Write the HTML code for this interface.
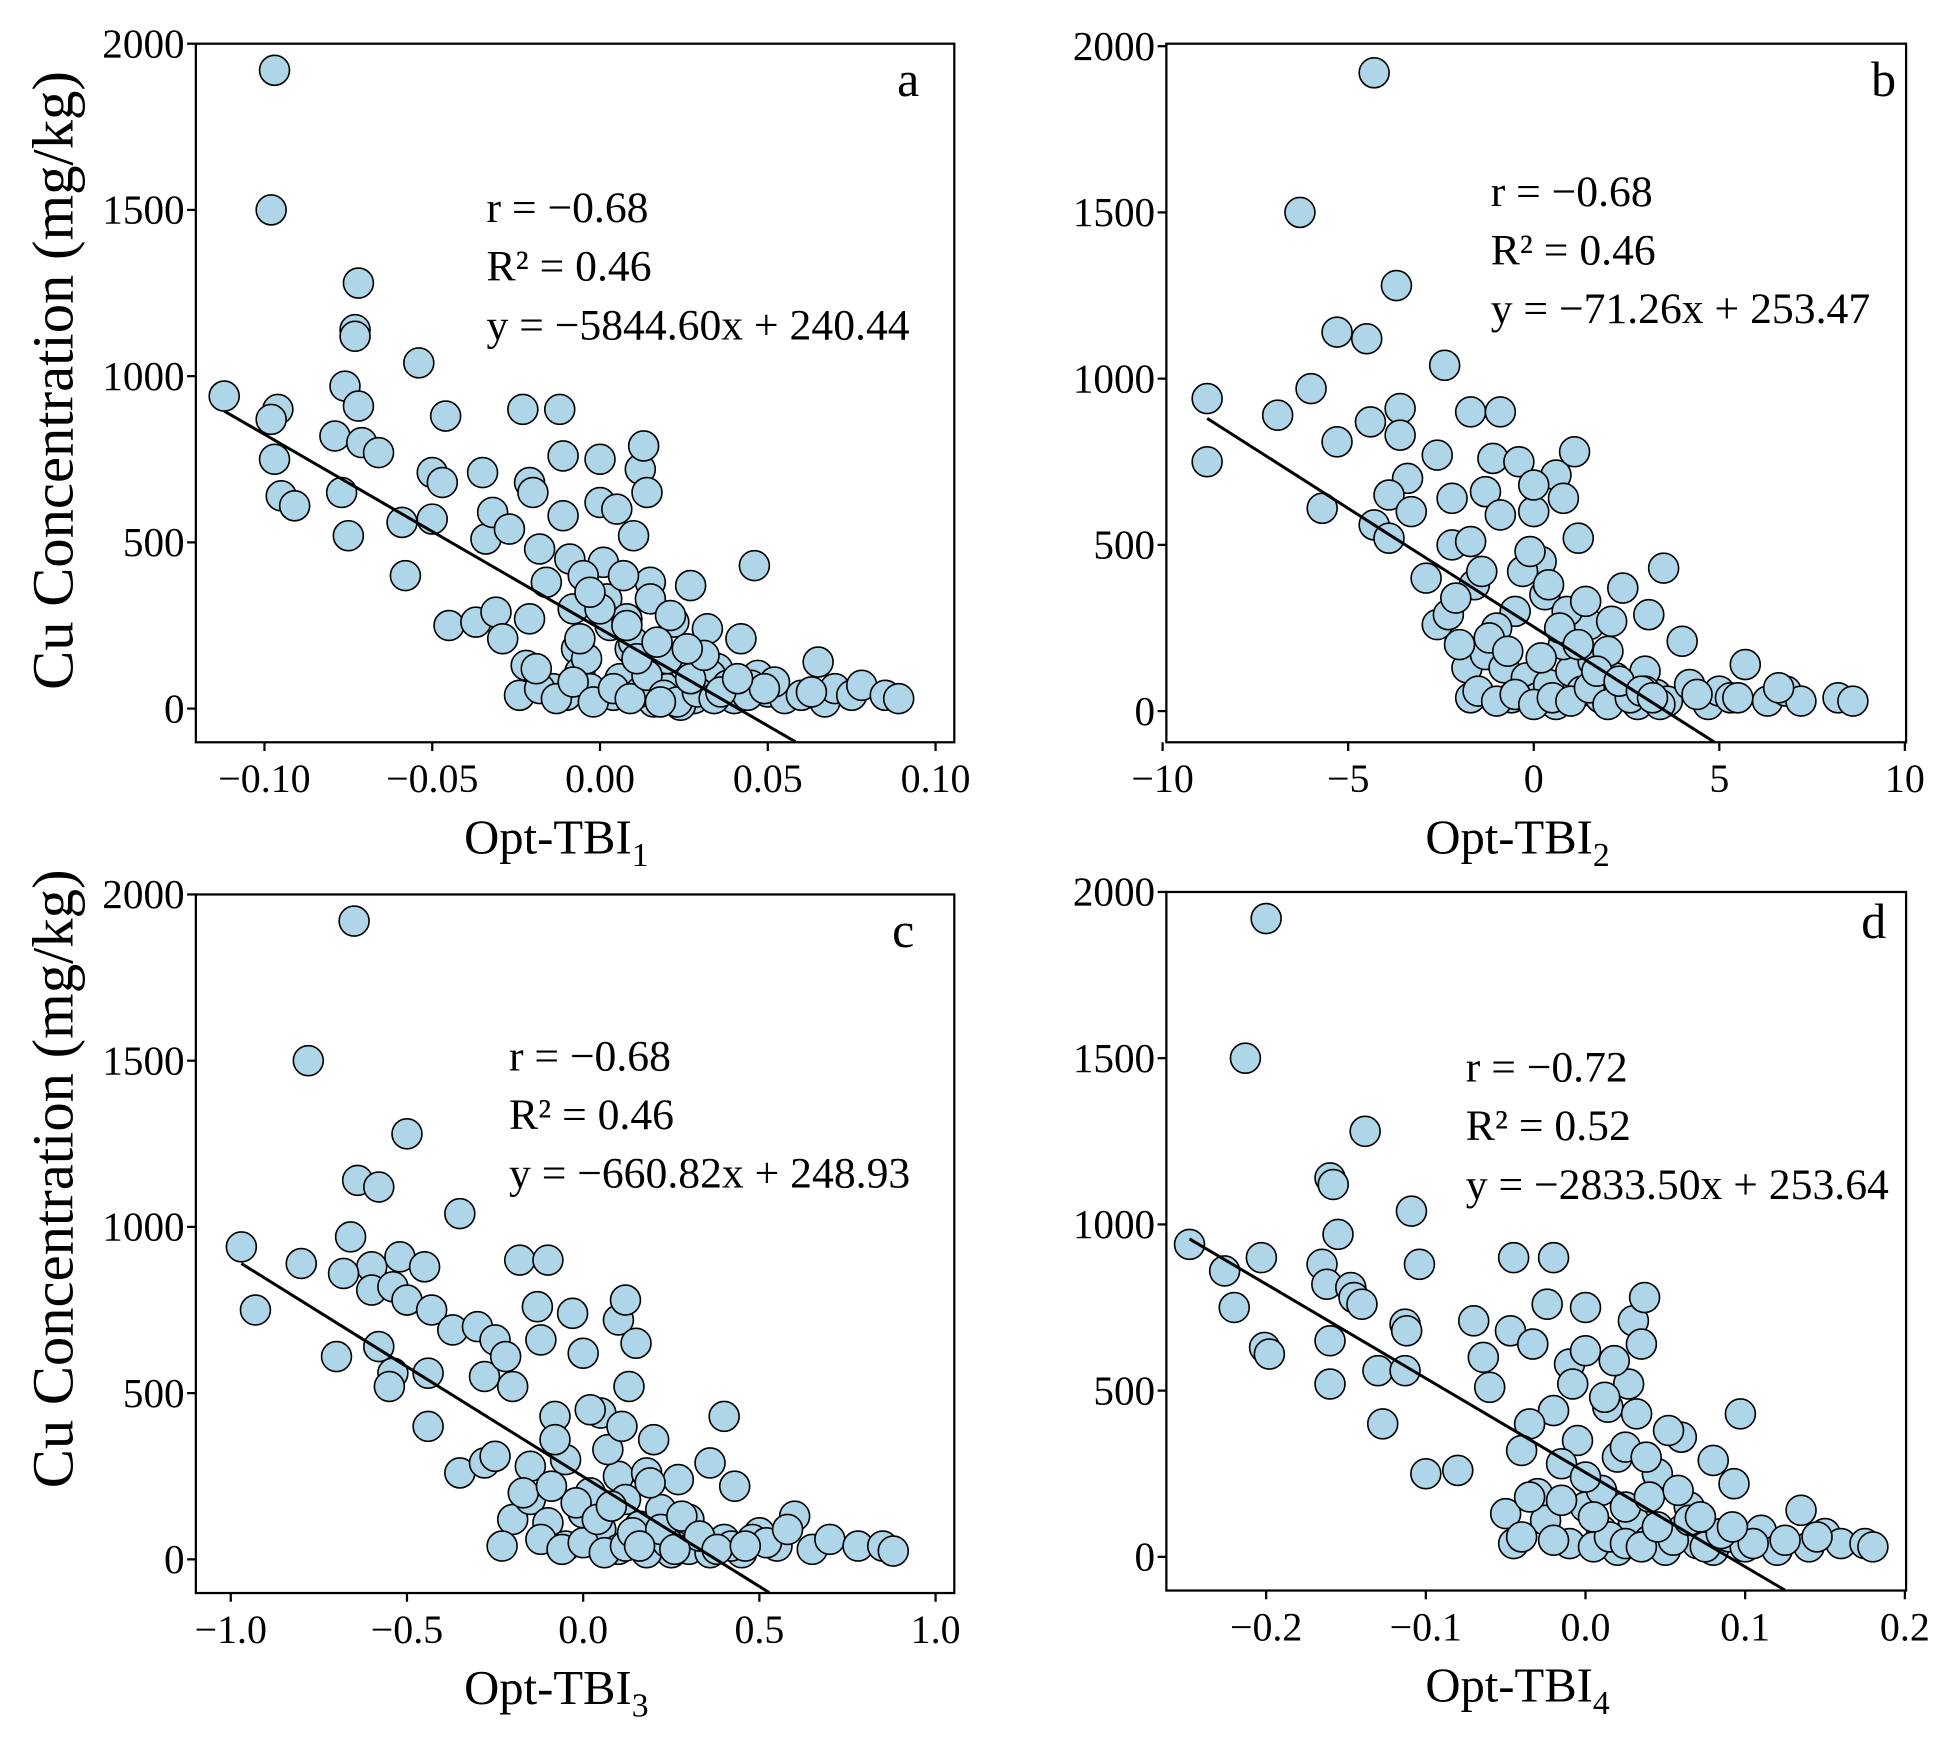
<!DOCTYPE html>
<html><head><meta charset="utf-8"><style>
html,body{margin:0;padding:0;background:#fff}
svg{display:block}
text{font-family:"Liberation Serif",serif;fill:#000}
</style></head><body>
<svg id="fig" width="1956" height="1749" viewBox="0 0 1568 1402" xmlns="http://www.w3.org/2000/svg"></svg>
<script>
const aX=[-0.097,-0.098,-0.072,-0.073,-0.073,-0.112,-0.096,-0.098,-0.076,-0.072,-0.079,-0.071,-0.066,-0.097,-0.095,-0.091,-0.077,-0.075,-0.059,-0.058,-0.054,-0.05,-0.047,-0.046,-0.05,-0.045,-0.037,-0.035,-0.034,-0.032,-0.031,-0.029,-0.027,-0.023,-0.022,-0.021,-0.020,-0.021,-0.018,-0.016,-0.014,-0.012,-0.011,-0.011,-0.009,-0.008,-0.007,-0.006,-0.004,-0.003,0.0,0.0,0.001,0.002,0.003,0.004,0.005,0.006,0.008,0.009,0.01,0.012,0.013,0.014,0.015,0.016,0.018,0.02,0.022,0.025,0.027,0.028,0.03,0.032,0.035,0.037,0.04,0.042,0.046,0.047,0.05,0.055,0.06,0.065,0.067,0.07,0.075,0.078,0.085,0.089,0.0,0.01,-0.005,0.02,0.033,0.045,0.012,-0.01,0.024,0.052,0.063,
-0.024,-0.018,-0.013,-0.008,-0.002,0.004,0.009,0.014,0.019,0.023,0.029,0.034,0.038,0.044,0.049,0.011,0.017,0.027,0.031,0.007,-0.003,0.015,0.021,0.036,0.041,-0.019,-0.006,0.026,0.008,0.018];
const aY=[1920,1500,1280,1140,1120,940,900,870,970,910,820,800,770,750,640,610,650,520,560,400,1040,710,680,880,570,250,260,710,510,590,290,210,540,900,130,680,650,270,480,380,60,900,760,580,450,300,180,110,150,60,750,620,440,330,250,40,600,90,270,180,520,720,790,650,380,20,130,60,260,130,370,30,80,240,120,60,30,210,430,100,50,30,40,140,20,60,40,70,40,30,300,200,400,150,100,70,50,40,10,80,50,
40,60,30,80,20,60,30,100,40,20,50,30,70,40,60,150,200,90,160,400,350,330,280,50,90,120,210,180,250,20];
const bX=[-4.3,-6.3,-3.7,-5.3,-4.5,-2.4,-8.8,-6.0,-6.9,-4.4,-3.6,-3.6,-5.3,-3.4,-2.6,-8.8,-1.7,-0.9,-3.9,-5.7,-4.3,-3.9,-3.3,-2.9,-2.2,-2.2,-2.6,-2.3,-1.7,-1.6,-1.1,-1.3,-0.9,-0.4,0.0,0.2,0.6,0.8,1.1,1.2,1.5,2.4,3.1,3.5,4.0,-1.8,-1.7,-1.3,-0.8,-0.6,-0.2,0.1,0.4,0.6,1.0,1.3,1.8,2.2,2.5,2.8,3.3,3.6,4.2,4.7,5.0,5.3,5.7,6.3,6.8,7.2,8.2,8.6,-0.5,0.3,0.8,-1.0,1.6,2.0,-0.3,0.9,-2.0,3.0,2.7,
-1.5,-1.0,-0.5,0.0,0.5,1.0,1.5,2.0,2.6,3.0,3.4,-1.2,-0.7,0.2,0.7,1.2,1.7,2.3,2.9,-0.1,0.4,1.4,2.1,-2.1,-1.4,0.0,3.2,4.4,5.5,6.6];
const bY=[1920,1500,1280,1140,1120,1040,940,970,890,870,910,830,810,700,770,750,900,900,650,610,560,520,600,400,640,500,260,290,510,380,760,660,590,750,600,450,710,640,780,520,260,370,290,430,210,130,40,170,130,40,100,40,80,20,120,60,40,100,70,20,50,30,80,20,60,40,140,30,60,30,40,30,300,350,200,250,150,180,420,300,200,120,50,
60,30,50,20,40,30,70,20,40,60,20,220,180,160,250,200,120,90,60,480,380,330,270,340,420,680,40,50,40,70];
const cX=[-0.65,-0.78,-0.5,-0.64,-0.58,-0.35,-0.97,-0.8,-0.66,-0.6,-0.52,-0.68,-0.6,-0.54,-0.5,-0.45,-0.43,-0.93,-0.7,-0.58,-0.54,-0.55,-0.44,-0.44,-0.37,-0.3,-0.28,-0.25,-0.22,-0.18,-0.1,-0.13,-0.03,-0.12,0.0,0.1,0.12,0.15,0.13,-0.2,-0.08,0.05,0.2,0.4,0.43,0.36,0.27,-0.35,-0.28,-0.2,-0.23,-0.15,-0.1,-0.05,0.0,0.05,0.1,0.16,0.2,0.25,0.3,0.35,0.4,0.45,0.5,0.55,0.6,0.65,0.7,0.78,0.85,0.88,-0.05,0.1,0.02,-0.15,0.22,0.3,-0.08,0.07,0.18,0.12,
-0.12,-0.06,0.0,0.06,0.12,0.18,0.24,0.3,0.36,0.42,0.48,-0.02,0.04,0.14,0.22,0.28,0.33,-0.17,-0.09,0.08,0.16,0.26,0.38,-0.25,0.52,0.58,0.02,0.11,0.19,0.46];
const cY=[1920,1500,1280,1140,1120,1040,940,890,970,880,910,860,810,820,780,880,750,750,610,640,560,520,560,400,690,700,550,660,610,900,900,760,740,660,620,720,780,650,520,520,430,440,360,430,220,290,240,260,290,120,40,180,110,40,140,90,30,100,60,20,70,30,60,20,80,40,130,30,60,40,40,25,300,250,200,280,150,120,360,330,260,180,
60,30,50,20,40,20,50,30,20,40,60,170,120,80,90,130,70,200,220,160,40,30,30,310,50,90,450,400,230,40];
const dX=[-0.2,-0.213,-0.138,-0.16,-0.158,-0.109,-0.248,-0.226,-0.203,-0.155,-0.165,-0.162,-0.147,-0.145,-0.14,-0.113,-0.112,-0.104,-0.22,-0.201,-0.198,-0.16,-0.16,-0.13,-0.113,-0.127,-0.1,-0.08,-0.07,-0.064,-0.06,-0.047,-0.045,-0.033,-0.024,-0.02,-0.02,-0.01,0.0,0.0,0.014,0.03,0.037,0.035,0.027,0.06,0.08,0.097,0.093,-0.05,-0.045,-0.03,-0.025,-0.01,0.0,0.01,0.02,0.03,0.04,0.05,0.06,0.07,0.08,0.09,0.1,0.11,0.12,0.135,0.14,0.15,0.16,0.175,0.18,-0.035,-0.005,0.02,0.045,0.01,-0.015,0.065,0.025,
-0.04,-0.02,0.005,0.015,0.025,0.035,0.055,0.075,0.085,0.105,-0.035,-0.015,0.005,0.025,0.045,0.065,-0.04,0.0,0.04,0.012,0.032,0.052,0.072,0.092,0.125,0.145,0.018,-0.008,0.038,0.058];
const dY=[1920,1500,1280,1140,1120,1040,940,860,900,970,880,820,810,780,760,700,680,880,750,630,610,650,520,560,560,400,250,260,710,600,510,680,900,640,760,900,440,580,750,620,450,710,780,640,520,360,290,430,220,130,40,190,110,40,150,80,20,110,50,20,80,40,20,60,30,80,20,140,30,70,40,40,30,400,350,300,250,200,280,150,330,
60,50,30,60,40,30,50,30,70,40,180,170,120,150,90,110,320,240,180,480,430,380,120,90,50,60,590,520,300,200];
const yTicks=[0,500,1000,1500,2000];
const aTicks=[-0.10,-0.05,0.00,0.05,0.10], aTickLbl=["−0.10","−0.05","0.00","0.05","0.10"];
const bTicks=[-10,-5,0,5,10], bTickLbl=["−10","−5","0","5","10"];
const cTicks=[-1.0,-0.5,0.0,0.5,1.0], cTickLbl=["−1.0","−0.5","0.0","0.5","1.0"];
const dTicks=[-0.2,-0.1,0.0,0.1,0.2], dTickLbl=["−0.2","−0.1","0.0","0.1","0.2"];
const fitSlope=[-5844.60,-71.26,-660.82,-2833.50];
const fitIntercept=[240.44,253.47,248.93,253.64];

const NS="http://www.w3.org/2000/svg";
const svg=document.getElementById('fig');
function mk(tag,attrs,parent){const e=document.createElementNS(NS,tag);for(const k in attrs)e.setAttribute(k,attrs[k]);(parent||svg).appendChild(e);return e;}

const panels=[
 {id:'a',L:157,R:765,T:35,B:595,x0:-0.1,px0:212,x1:0.1,px1:750,y2000:35,y0:568,xs:aX,ys:aY,ticks:aTicks,lbl:aTickLbl,sub:'1',ann:['r = −0.68','R² = 0.46','y = −5844.60x + 240.44'],annX:390,annY:178,letterX:728,letterY:77},
 {id:'b',L:935,R:1528,T:35,B:595,x0:-10,px0:932,x1:10,px1:1527,y2000:37,y0:570,xs:bX,ys:bY,ticks:bTicks,lbl:bTickLbl,sub:'2',ann:['r = −0.68','R² = 0.46','y = −71.26x + 253.47'],annX:1195,annY:165,letterX:1510,letterY:77},
 {id:'c',L:157,R:765,T:717,B:1277,x0:-1,px0:185,x1:1,px1:750,y2000:717,y0:1250,xs:cX,ys:cY,ticks:cTicks,lbl:cTickLbl,sub:'3',ann:['r = −0.68','R² = 0.46','y = −660.82x + 248.93'],annX:408,annY:858,letterX:724,letterY:759},
 {id:'d',L:935,R:1528,T:715,B:1275,x0:-0.2,px0:1015,x1:0.2,px1:1527,y2000:715,y0:1248,xs:dX,ys:dY,ticks:dTicks,lbl:dTickLbl,sub:'4',ann:['r = −0.72','R² = 0.52','y = −2833.50x + 253.64'],annX:1175,annY:867,letterX:1502,letterY:752}
];
panels.forEach((p,i)=>{
 const g=mk('g',{});
 
 
 const sx=v=>p.px0+(v-p.x0)*(p.px1-p.px0)/(p.x1-p.x0);
 const sy=v=>p.y0+(v)*(p.y2000-p.y0)/2000;
 const cid='clip'+p.id;
 const cp=mk('clipPath',{id:cid},g);mk('rect',{x:p.L,y:p.T,width:p.R-p.L,height:p.B-p.T},cp);
 const pts=mk('g',{'clip-path':'url(#'+cid+')'},g);
 
 
 for(let k=0;k<p.xs.length;k++){
  const c=mk('circle',{cx:sx(p.xs[k]),cy:sy(p.ys[k]),r:12,fill:'#aed6e8',stroke:'#000','stroke-width':1.3},pts);
  
  
 }
 let xa=Math.min(...p.xs), xb=(fitIntercept[i]+100)/(-fitSlope[i]);
 const ln=mk('line',{x1:sx(xa),y1:sy(fitSlope[i]*xa+fitIntercept[i]),x2:sx(xb),y2:sy(fitSlope[i]*xb+fitIntercept[i]),stroke:'#000','stroke-width':2.4,'clip-path':'url(#'+cid+')'},g);
 
 
 const fr=mk('rect',{x:p.L,y:p.T,width:p.R-p.L,height:p.B-p.T,fill:'none',stroke:'#000','stroke-width':1.8},g);
 
 
 yTicks.forEach(v=>{
  const y=sy(v);
  mk('line',{x1:p.L,x2:p.L-7,y1:y,y2:y,stroke:'#000','stroke-width':1.8},g);
  const t=mk('text',{x:p.L-9,y:y+11,'font-size':33,'text-anchor':'end'},g);t.textContent=v;
  
  
 });
 p.ticks.forEach((v,j)=>{
  const x=sx(v);
  mk('line',{x1:x,x2:x,y1:p.B,y2:p.B+7,stroke:'#000','stroke-width':1.8},g);
  const t=mk('text',{x:x,y:p.B+40,'font-size':32,'text-anchor':'middle'},g);t.textContent=p.lbl[j];
  
  
 });
 const xt=mk('text',{x:(p.L+p.R)/2-15,y:p.B+89,'font-size':39,'text-anchor':'middle'},g);
 
 
 xt.innerHTML='Opt-TBI<tspan font-size="27" dy="10">'+p.sub+'</tspan>';
 p.ann.forEach((s,j)=>{
  const t=mk('text',{x:p.annX,y:p.annY+j*47,'font-size':35},g);t.textContent=s;
  
  
 });
 const lt=mk('text',{x:p.letterX,y:p.letterY,'font-size':40,'text-anchor':'middle'},g);lt.textContent=p.id;
 
 
});
[[305],[945]].forEach(([cy])=>{
 const t=mk('text',{x:0,y:0,'font-size':47,'text-anchor':'middle',transform:'translate(58,'+cy+') rotate(-90)'});
 t.textContent='Cu Concentration (mg/kg)';
 
 
});
</script>
</body></html>
